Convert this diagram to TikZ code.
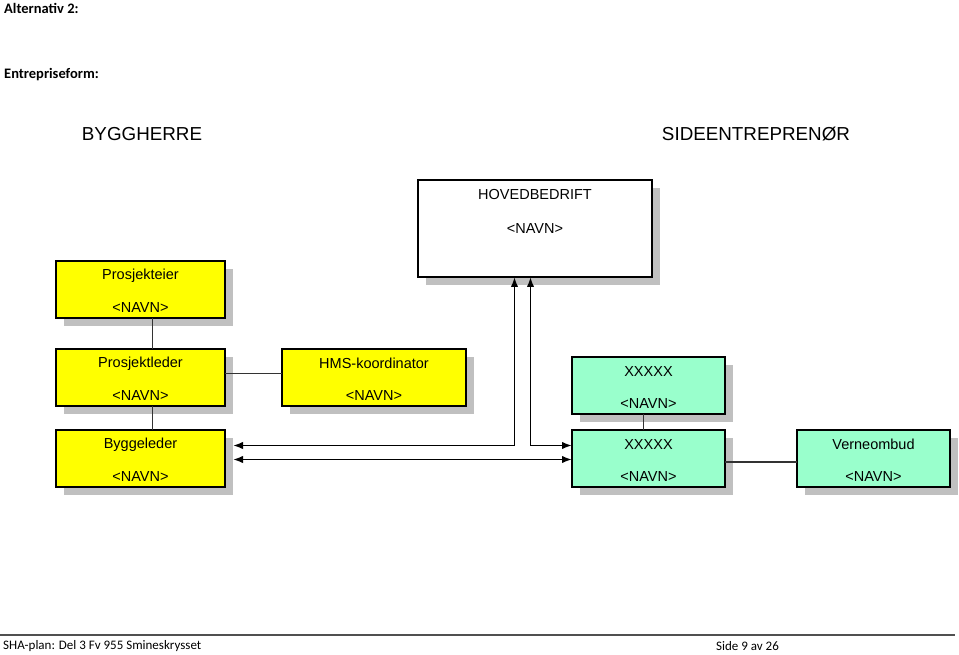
\documentclass[tikz,border=0pt]{standalone}
\usepackage{fontspec}
\setmainfont{Liberation Sans}
\newfontfamily\calib{Carlito}
\usetikzlibrary{shadows,arrows.meta,calc}
\definecolor{boxyellow}{HTML}{FFFF00}
\definecolor{boxgreen}{HTML}{99FFCC}
\definecolor{shadowgray}{HTML}{C0C0C0}
\definecolor{footline}{HTML}{505050}
\tikzset{
  box/.style={draw=black, line width=1.2pt, inner sep=0pt, outer sep=0pt,
    drop shadow={shadow xshift=8pt, shadow yshift=-8pt, fill=shadowgray, opacity=1}},
  ybox/.style={box, fill=boxyellow, minimum height=57pt},
  gbox/.style={box, fill=boxgreen, minimum width=153pt, minimum height=57pt},
  wbox/.style={box, fill=white, minimum width=234pt, minimum height=97pt},
  btxt/.style={font=\fontsize{14.5}{16}\selectfont, inner sep=0pt},
  htxt/.style={font=\fontsize{18.8}{21}\selectfont, inner sep=0pt},
  ctxt/.style={font=\calib\bfseries\fontsize{14.5}{16}\selectfont, inner sep=0pt, anchor=west},
  ftxt/.style={font=\calib\fontsize{13}{15}\selectfont, inner sep=0pt, anchor=west},
  conn/.style={line width=1.1pt, draw=black!80},
  arr/.style={line width=1.8pt, {Latex[length=10pt,width=7.5pt]}-{Latex[length=10pt,width=7.5pt]}},
}
\begin{document}
\begin{tikzpicture}[x=1pt,y=-1pt]
\useasboundingbox (0,0) rectangle (959,655);
% header texts
\node[ctxt] (alt) at (4,8) {Alternativ 2:};
\node[ctxt] (ef) at (4,75) {Entrepriseform:};
\node[htxt] (bh) at (142,134) {BYGGHERRE};
\node[htxt] (se) at (756,134) {SIDEENTREPRENØR};
% boxes
\node[wbox] (hb) at (535,228.5) {};
\node[ybox, minimum width=169pt] (pe) at (140.5,289.5) {};
\node[ybox, minimum width=169pt] (pl) at (140.5,377.5) {};
\node[ybox, minimum width=169pt] (bl) at (140.5,458.5) {};
\node[ybox, minimum width=184pt] (hms) at (374,377.5) {};
\node[gbox] (x1) at (648.5,385.5) {};
\node[gbox] (x2) at (648.5,458.5) {};
\node[gbox] (vo) at (873.5,458.5) {};
% box texts
\node[btxt] (hb-t) at ($(hb.north)+(0,15)$) {HOVEDBEDRIFT};
\node[btxt] (hb-n) at ($(hb.north)+(0,49)$) {<NAVN>};
\foreach \n/\t in {pe/Prosjekteier, pl/Prosjektleder, bl/Byggeleder, hms/HMS-koordinator, x1/XXXXX, x2/XXXXX, vo/Verneombud}{
  \node[btxt] (\n-t) at ($(\n.north)+(0,14.5)$) {\t};
  \node[btxt] (\n-n) at ($(\n.south)+(0,-10)$) {<NAVN>};
}
% plain connectors
\draw[conn] ([xshift=12pt]pe.south) -- ([xshift=12pt]pl.north);
\draw[conn] ([xshift=12pt]pl.south) -- ([xshift=12pt]bl.north);
\draw[conn] ([yshift=4pt]pl.east) -- ([yshift=4pt]hms.west);
\draw[conn] ([xshift=-5pt]x1.south) -- ([xshift=-5pt]x2.north);
\draw[conn] ([yshift=-3.5pt]x2.east) -- ([yshift=-3.5pt]vo.west);
% arrows
\coordinate (ca) at (514.5,445.5);
\coordinate (cb) at (530.5,445.5);
\coordinate (blr) at ([xshift=8pt]bl.east);
\draw[arr] (hb.south -| ca) -- (ca) -- (blr |- ca);
\draw[arr] (hb.south -| cb) -- (cb) -- (x2.west |- cb);
\coordinate (cc) at (0,459.5);
\draw[arr] (blr |- cc) -- (x2.west |- cc);
% footer
\coordinate (fl) at (0,635);
\coordinate (fr) at (955,635);
\draw[line width=2pt, footline] (fl) -- (fr);
\node[ftxt] (f1) at (3,646) {SHA-plan: Del 3 Fv 955 Smineskrysset};
\node[ftxt] (f2) at (716,646) {Side 9 av 26};
\end{tikzpicture}
\end{document}
